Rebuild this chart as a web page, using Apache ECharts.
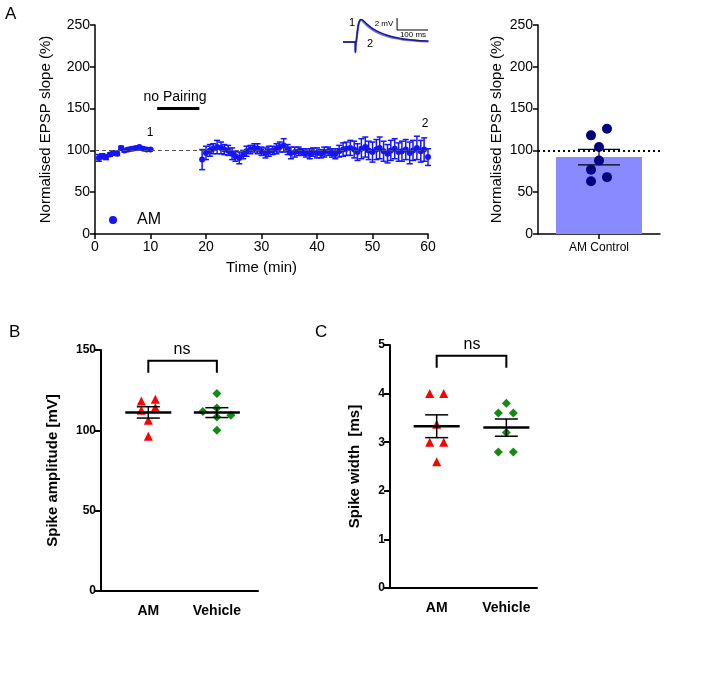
<!DOCTYPE html>
<html><head><meta charset="utf-8">
<script src="https://cdn.jsdelivr.net/npm/echarts@6/dist/echarts.min.js"></script>
<style>html,body{margin:0;padding:0;background:#fff}#c{width:706px;height:677px}</style>
</head><body><div id="c"></div>
<script>
// ---- Panel A: time course ----
const baseT = [0.7,1.3,2.0,2.7,3.3,4.0,4.7,5.3,6.0,6.7,7.3,8.0,8.7,9.3,10.0];
const baseV = [91,93,92,95,97,96,103,100,101,102,103,104,102,101,101];
const baseE = [4,3,3,2,2,2,2,2,2,2,1,1,1,1,1];
const postT = [19.3,20.0,20.7,21.3,22.0,22.7,23.3,24.0,24.7,25.3,26.0,26.7,27.3,28.0,28.7,29.3,30.0,30.7,31.3,32.0,32.7,33.3,34.0,34.7,35.3,36.0,36.7,37.3,38.0,38.7,39.3,40.0,40.7,41.3,42.0,42.7,43.3,44.0,44.7,45.3,46.0,46.7,47.3,48.0,48.7,49.3,50.0,50.7,51.3,52.0,52.7,53.3,54.0,54.7,55.3,56.0,56.7,57.3,58.0,58.7,59.3,60.0];
const postV = [89,97,100,102,104,103,101,100,96,93,91,95,99,101,103,102,99,97,99,100,102,104,106,101,97,98,99,98,97,96,98,97,96,98,99,97,96,99,101,102,103,101,98,102,104,100,98,101,103,99,96,100,102,98,99,101,97,100,103,99,101,92];
const postE = [12,8,7,6,8,7,6,6,7,6,7,5,6,5,5,6,5,6,6,5,6,6,8,6,7,6,5,4,5,6,5,6,5,6,5,5,6,7,8,8,9,10,10,12,12,11,12,12,13,12,11,12,12,11,12,12,13,12,14,13,14,10];
const pairingStart = 11.2, pairingEnd = 18.8, pairingLevel = 150;
const baselineLevel = 100;
// inset EPSP traces (ms, mV)
const traceT = [-40,-5,-1,0,1,3,5,8,11,14,18,22,27,35,45,60,75,90,110,130,150,175,200,235];
const trace1 = [0,0,0,-1.7,-0.3,0.2,1.2,2.4,3.2,3.6,3.75,3.7,3.5,3.1,2.65,2.1,1.7,1.35,1.0,0.75,0.55,0.38,0.25,0.15];
const trace2 = [0,0,0,-1.7,-0.3,0.2,1.1,2.3,3.1,3.5,3.65,3.55,3.3,2.9,2.45,1.9,1.5,1.18,0.85,0.62,0.45,0.3,0.2,0.12];
const scaleBar = [[134,4],[134,2],[234,2]];
// ---- Panel A: bar ----
const barCat = ['AM Control'];
const barPoints = [126,118,104,88,77,68,63];
// ---- Panel B ----
const groups = ['AM','Vehicle'];
const ampAM = [118.3,119.4,112.5,114.2,106.3,96.3];
const ampVeh = [122.9,111.7,113.9,108.3,109.4,100.0];
// ---- Panel C ----
const widAM = [4.0,4.0,3.37,3.0,3.0,2.6];
const widVeh = [3.8,3.6,3.6,3.2,2.8,2.8];

// jitter offsets (px) - styling
const jBar = [8,-8,0,0,-8,8,-8];
const jBAM = [-7,7,-7,7,0,0], jBVeh = [0,-14,0,0,14,0];
const jCAM = [-7,7,0,-7,7,0], jCVeh = [0,-8,7,0,-8,7];

function mean(a){return a.reduce((s,v)=>s+v,0)/a.length;}
function sem(a){const m=mean(a);return Math.sqrt(a.reduce((s,v)=>s+(v-m)*(v-m),0)/(a.length-1))/Math.sqrt(a.length);}

const FONT = 'Liberation Sans, Arial, sans-serif';
const axisLine = w => ({show:true, lineStyle:{color:'#000', width:w}});

function errBarRender(cap, color, lw){
  return function(params, api){
    const x=api.value(0), m=api.value(1), e=api.value(2);
    const t=api.coord([x,m+e]), b=api.coord([x,m-e]);
    const st={stroke:color, lineWidth:lw};
    return {type:'group', children:[
      {type:'line', shape:{x1:t[0],y1:t[1],x2:b[0],y2:b[1]}, style:st},
      {type:'line', shape:{x1:t[0]-cap,y1:t[1],x2:t[0]+cap,y2:t[1]}, style:st},
      {type:'line', shape:{x1:b[0]-cap,y1:b[1],x2:b[0]+cap,y2:b[1]}, style:st}
    ]};
  };
}
function meanSemRender(half, cap){
  return function(params, api){
    const x=api.value(0), m=api.value(1), e=api.value(2);
    const c=api.coord([x,m]), t=api.coord([x,m+e]), b=api.coord([x,m-e]);
    return {type:'group', children:[
      {type:'line', shape:{x1:c[0]-half,y1:c[1],x2:c[0]+half,y2:c[1]}, style:{stroke:'#000',lineWidth:2.5}},
      {type:'line', shape:{x1:t[0],y1:t[1],x2:b[0],y2:b[1]}, style:{stroke:'#000',lineWidth:1.5}},
      {type:'line', shape:{x1:t[0]-cap,y1:t[1],x2:t[0]+cap,y2:t[1]}, style:{stroke:'#000',lineWidth:1.5}},
      {type:'line', shape:{x1:b[0]-cap,y1:b[1],x2:b[0]+cap,y2:b[1]}, style:{stroke:'#000',lineWidth:1.5}}
    ]};
  };
}
function barErrRender(cap){
  return function(params, api){
    const x=api.value(0), m=api.value(1), e=api.value(2);
    const t=api.coord([x,m+e]), b=api.coord([x,m-e]);
    const st={stroke:'#000', lineWidth:1.2};
    return {type:'group', children:[
      {type:'line', shape:{x1:t[0],y1:t[1],x2:b[0],y2:b[1]}, style:st},
      {type:'line', shape:{x1:t[0]-cap,y1:t[1],x2:t[0]+cap,y2:t[1]}, style:st},
      {type:'line', shape:{x1:b[0]-cap,y1:b[1],x2:b[0]+cap,y2:b[1]}, style:st}
    ]};
  };
}
function bracketRender(params, api){
  const x1=api.value(0), x2=api.value(1), top=api.value(2), leg=api.value(3);
  const a=api.coord([x1,leg]), b=api.coord([x1,top]), c=api.coord([x2,top]), d=api.coord([x2,leg]);
  return {type:'polyline', shape:{points:[a,b,c,d]}, style:{stroke:'#000', lineWidth:2, fill:null}};
}

const blue = '#1414ff';
const scatterGroup = (vals, jit, x, sym, size, color, xi, yi) => ({
  type:'scatter', xAxisIndex:xi, yAxisIndex:yi, symbol:sym, symbolSize:size,
  itemStyle:{color:color, opacity:1}, z:3,
  data: vals.map((v,i)=>({value:[x,v], symbolOffset:[jit[i],0]}))
});

const chart = echarts.init(document.getElementById('c'), null, {renderer:'canvas'});
const option = {
  animation:false,
  textStyle:{fontFamily:FONT},
  grid:[
    {left:95, top:25, width:333, height:209},
    {left:538, top:25, width:122, height:209},
    {left:101, top:350, width:157, height:241},
    {left:390, top:345, width:147, height:243},
    {left:343, top:12, width:87, height:45}
  ],
  legend:{data:['AM'], left:104, top:207, itemWidth:38, itemHeight:8, itemGap:5,
    textStyle:{fontSize:16, color:'#000', fontFamily:FONT}, icon:'circle'},
  xAxis:[
    {gridIndex:0, type:'value', min:0, max:60, interval:10,
     name:'Time (min)', nameLocation:'middle', nameGap:26, nameTextStyle:{fontSize:15,color:'#000'},
     axisLine:axisLine(1.5), axisTick:{show:true, length:5, lineStyle:{color:'#000',width:1.5}},
     axisLabel:{fontSize:14, color:'#000', margin:6}, splitLine:{show:false}},
    {gridIndex:1, type:'category', data:barCat,
     axisLine:axisLine(1.5), axisTick:{show:true, alignWithLabel:true, length:5, lineStyle:{color:'#000',width:1.5}},
     axisLabel:{fontSize:12, color:'#000', margin:8}},
    {gridIndex:2, type:'value', min:0.31, max:2.6,
     axisLine:axisLine(2), axisTick:{show:false, customValues:[1,2]},
     axisLabel:{customValues:[1,2], formatter:v=>groups[Math.round(v)-1], fontSize:14, fontWeight:'bold', color:'#000', margin:13},
     splitLine:{show:false}},
    {gridIndex:3, type:'value', min:0.33, max:2.44,
     axisLine:axisLine(2), axisTick:{show:false, customValues:[1,2]},
     axisLabel:{customValues:[1,2], formatter:v=>groups[Math.round(v)-1], fontSize:14, fontWeight:'bold', color:'#000', margin:13},
     splitLine:{show:false}},
    {gridIndex:4, type:'value', min:-40, max:240, show:false}
  ],
  yAxis:[
    {gridIndex:0, type:'value', min:0, max:250, interval:50,
     name:'Normalised EPSP slope (%)', nameLocation:'middle', nameGap:42, nameTextStyle:{fontSize:15,color:'#000'},
     axisLine:axisLine(1.5), axisTick:{show:true, length:5, lineStyle:{color:'#000',width:1.5}},
     axisLabel:{fontSize:14, color:'#000', margin:5}, splitLine:{show:false}},
    {gridIndex:1, type:'value', min:0, max:250, interval:50,
     name:'Normalised EPSP slope (%)', nameLocation:'middle', nameGap:34, nameTextStyle:{fontSize:15,color:'#000'},
     axisLine:axisLine(1.5), axisTick:{show:true, length:5, lineStyle:{color:'#000',width:1.5}},
     axisLabel:{fontSize:14, color:'#000', margin:5}, splitLine:{show:false}},
    {gridIndex:2, type:'value', min:0, max:150, interval:50,
     name:'Spike amplitude [mV]', nameLocation:'middle', nameGap:41, nameTextStyle:{fontSize:15,fontWeight:'bold',color:'#000'},
     axisLine:axisLine(2), axisTick:{show:true, length:6, lineStyle:{color:'#000',width:2}},
     axisLabel:{fontSize:12, fontWeight:'bold', color:'#000', margin:5}, splitLine:{show:false}},
    {gridIndex:3, type:'value', min:0, max:5, interval:1,
     name:'Spike width  [ms]', nameLocation:'middle', nameGap:28, nameTextStyle:{fontSize:15,fontWeight:'bold',color:'#000'},
     axisLine:axisLine(2), axisTick:{show:true, length:6, lineStyle:{color:'#000',width:2}},
     axisLabel:{fontSize:12, fontWeight:'bold', color:'#000', margin:5}, splitLine:{show:false}},
    {gridIndex:4, type:'value', min:-2.5, max:5, show:false}
  ],
  series:[
    {type:'line', xAxisIndex:0, yAxisIndex:0, data:[], silent:true,
     markLine:{symbol:'none', silent:true, label:{show:false},
       lineStyle:{type:[4,3], color:'#555', width:1.2}, data:[{yAxis:baselineLevel}]}},
    {type:'custom', xAxisIndex:0, yAxisIndex:0, renderItem:errBarRender(3, blue, 1.5),
     data: baseT.map((t,i)=>[t, baseV[i], baseE[i]]), z:2},
    {type:'custom', xAxisIndex:0, yAxisIndex:0, renderItem:errBarRender(3, blue, 1.5),
     data: postT.map((t,i)=>[t, postV[i], postE[i]]), z:2},
    {name:'AM', type:'scatter', xAxisIndex:0, yAxisIndex:0, symbolSize:6, itemStyle:{color:blue, opacity:1},
     data: baseT.map((t,i)=>[t, baseV[i]]).concat(postT.map((t,i)=>[t, postV[i]])), z:3},
    {type:'line', xAxisIndex:0, yAxisIndex:0, showSymbol:false, silent:true,
     lineStyle:{color:'#000', width:3}, data:[[pairingStart,pairingLevel],[pairingEnd,pairingLevel]]},
    {type:'line', xAxisIndex:4, yAxisIndex:4, showSymbol:false, smooth:0.3, silent:true,
     lineStyle:{color:'#6a6aff', width:2.2}, data: traceT.map((t,i)=>[t, trace2[i]])},
    {type:'line', xAxisIndex:4, yAxisIndex:4, showSymbol:false, smooth:0.3, silent:true,
     lineStyle:{color:'#1c1c7a', width:1.4}, data: traceT.map((t,i)=>[t, trace1[i]])},
    {type:'line', xAxisIndex:4, yAxisIndex:4, showSymbol:false, silent:true,
     lineStyle:{color:'#000', width:1}, data: scaleBar},
    {type:'bar', xAxisIndex:1, yAxisIndex:1, barWidth:86, itemStyle:{color:'#8a8aff'},
     data:[mean(barPoints)], z:1,
     markLine:{symbol:'none', silent:true, label:{show:false},
       lineStyle:{type:[2,3], color:'#000', width:1.8}, data:[{yAxis:baselineLevel}]}},
    {type:'custom', xAxisIndex:1, yAxisIndex:1, renderItem:barErrRender(21),
     data:[[0, mean(barPoints), sem(barPoints)]], z:2},
    {type:'scatter', xAxisIndex:1, yAxisIndex:1, symbolSize:10, itemStyle:{color:'#000080', opacity:1}, z:3,
     data: barPoints.map((v,i)=>({value:[0,v], symbolOffset:[jBar[i],0]}))},
    scatterGroup(ampAM, jBAM, 1, 'triangle', 9, '#ff0000', 2, 2),
    scatterGroup(ampVeh, jBVeh, 2, 'diamond', 9, '#138a13', 2, 2),
    {type:'custom', xAxisIndex:2, yAxisIndex:2, renderItem:meanSemRender(23, 11.5), z:4,
     data:[[1, mean(ampAM), sem(ampAM)],[2, mean(ampVeh), sem(ampVeh)]]},
    {type:'custom', xAxisIndex:2, yAxisIndex:2, renderItem:bracketRender, data:[[1,2,143.3,135.8]]},
    scatterGroup(widAM, jCAM, 1, 'triangle', 9, '#ff0000', 3, 3),
    scatterGroup(widVeh, jCVeh, 2, 'diamond', 9, '#138a13', 3, 3),
    {type:'custom', xAxisIndex:3, yAxisIndex:3, renderItem:meanSemRender(23, 11.5), z:4,
     data:[[1, mean(widAM), sem(widAM)],[2, mean(widVeh), sem(widVeh)]]},
    {type:'custom', xAxisIndex:3, yAxisIndex:3, renderItem:bracketRender, data:[[1,2,4.78,4.53]]}
  ],
  graphic:[
    {type:'text', left:5, top:6, style:{text:'A', font:'17px '+FONT, fill:'#000'}},
    {type:'text', left:9, top:324, style:{text:'B', font:'17px '+FONT, fill:'#000'}},
    {type:'text', left:315, top:324, style:{text:'C', font:'17px '+FONT, fill:'#000'}},
    {type:'text', x:175, y:97, style:{text:'no Pairing', font:'14px '+FONT, fill:'#000', align:'center', verticalAlign:'middle'}},
    {type:'text', x:150, y:133, style:{text:'1', font:'12px '+FONT, fill:'#000', align:'center', verticalAlign:'middle'}},
    {type:'text', x:425, y:124, style:{text:'2', font:'12px '+FONT, fill:'#000', align:'center', verticalAlign:'middle'}},
    {type:'text', x:352, y:23, style:{text:'1', font:'11px '+FONT, fill:'#000', align:'center', verticalAlign:'middle'}},
    {type:'text', x:370, y:44, style:{text:'2', font:'11px '+FONT, fill:'#000', align:'center', verticalAlign:'middle'}},
    {type:'text', x:384, y:24, style:{text:'2 mV', font:'8px '+FONT, fill:'#000', align:'center', verticalAlign:'middle'}},
    {type:'text', x:413, y:35, style:{text:'100 ms', font:'8px '+FONT, fill:'#000', align:'center', verticalAlign:'middle'}},
    {type:'text', x:182, y:350, style:{text:'ns', font:'16px '+FONT, fill:'#000', align:'center', verticalAlign:'middle'}},
    {type:'text', x:472, y:345, style:{text:'ns', font:'16px '+FONT, fill:'#000', align:'center', verticalAlign:'middle'}}
  ]
};
chart.setOption(option);
</script></body></html>
